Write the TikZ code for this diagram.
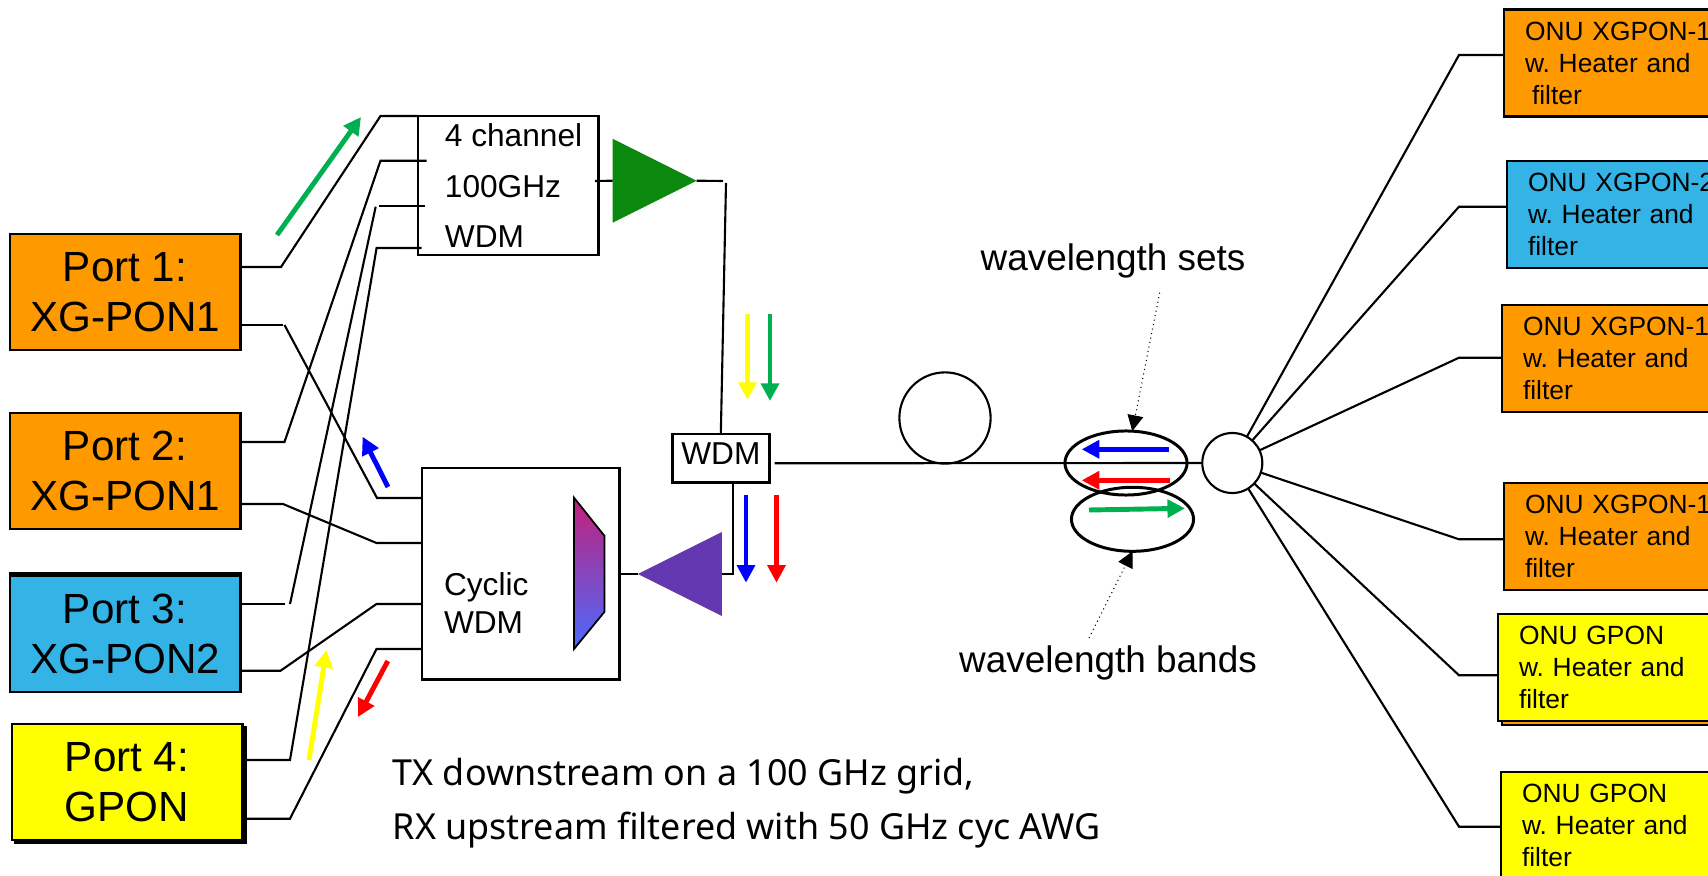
\documentclass[tikz,border=0pt]{standalone}
\usepackage{fontspec}
\setmainfont{Liberation Sans}
\newfontfamily\notefont{Noto Sans}
\usetikzlibrary{arrows.meta, positioning, shapes.geometric, shadows}

\definecolor{portorange}{HTML}{FF9900}
\definecolor{portblue}{HTML}{33B3E6}
\definecolor{portyellow}{RGB}{255,255,0}
\definecolor{sigteal}{HTML}{00B050}
\definecolor{amptx}{HTML}{0B8A0F}
\definecolor{amprx}{HTML}{6338B0}
\definecolor{gradtop}{HTML}{C2207A}
\definecolor{gradmid}{HTML}{9A46B8}
\definecolor{gradlow}{HTML}{4A6BFF}

\tikzset{
    fibre/.style={line width=0.6pt},
    boxed/.style={draw, line width=0.8pt, outer sep=0pt, inner sep=0pt},
    portbox/.style={boxed, anchor=north west, minimum width=2.3cm, minimum height=1.16cm, align=center, font=\fontsize{12}{14.1}\selectfont},
    onubox/.style={boxed, anchor=north west, text width=2.2cm, inner xsep=0.21cm, minimum height=1.07cm, align=left, font=\frenchspacing\fontsize{7.5}{9.1}\selectfont},
    midfont/.style={font=\fontsize{9}{14.4}\selectfont},
    ampshape/.style={isosceles triangle, isosceles triangle stretches, minimum width=0.84cm, minimum height=0.84cm, inner sep=0pt, outer sep=0pt},
    ring/.style={draw, circle, line width=0.6pt, inner sep=0pt, outer sep=0pt},
    bandring/.style={draw, ellipse, line width=0.85pt, minimum width=1.22cm, minimum height=0.64cm, inner sep=0pt, outer sep=0pt},
    sigarrow/.style={line width=1.4pt, -{Triangle[length=5pt,width=5pt]}},
    leader/.style={densely dotted, line width=0.3pt, -{Triangle[length=4.5pt,width=4.5pt]}}
}
\newcommand{\nudge}{\hspace*{0.11cm}}

\begin{document}
\begin{tikzpicture}[x=0.01cm,y=-0.01cm]
    \path[use as bounding box,clip] (0,0) rectangle (1708,876);

    % Ports on the left
    \node[portbox, fill=portorange] (port1) at (10,234) {Port 1:\\XG-PON1};
    \node[portbox, fill=portorange] (port2) at (10,413) {Port 2:\\XG-PON1};
    \node[portbox, fill=portblue, copy shadow={shadow xshift=0cm, shadow yshift=0.03cm, fill=black, draw=black}] (port3) at (10,576) {Port 3:\\XG-PON2};
    \node[portbox, fill=portyellow, copy shadow={shadow xshift=0.03cm, shadow yshift=-0.03cm, fill=black, draw=black}] (port4) at (12,724) {Port 4:\\GPON};

    % Multiplexer and cyclic filter
    \node[boxed, midfont, anchor=north west, minimum width=1.8cm, minimum height=1.39cm, align=left] (wdmfour) at (418,116) {\nudge 4 channel\\\nudge 100GHz\\\nudge WDM};
    \node[boxed, anchor=north west, text width=1.53cm, inner xsep=0.22cm, minimum height=2.11cm, align=left, font=\fontsize{9}{10.6}\selectfont] (cycwdm) at (422,468) {\rule{0pt}{0.82cm}Cyclic\\WDM};
    \node[boxed, midfont, anchor=north west, minimum width=0.966cm, minimum height=0.487cm, text depth=0.09cm] (wdmmux) at (672.5,434) {WDM};

    % Gradient part inside the cyclic filter
    \draw[line width=0.5pt, top color=gradtop, middle color=gradmid, bottom color=gradlow] (574,497.7) -- (604.6,536) -- (604.6,611.7) -- (574,649) -- cycle;

    % Amplifiers
    \node[ampshape, fill=amptx, anchor=apex] (amp1) at (696.6,180.7) {};
    \node[ampshape, fill=amprx, shape border rotate=180, anchor=apex] (amp2) at (637.8,574) {};

    % Port 1 to the filters
    \draw[fibre] (port1.east |- 0,267) -- (281,267) -- (380.5,116) -- (wdmfour.west |- 0,116);
    \draw[fibre] (port1.east |- 0,325) -- (283,325);
    \draw[fibre] (284.5,325) -- (377,498) -- (cycwdm.west |- 0,498);
    % Port 2
    \draw[fibre] (port2.east |- 0,442) -- (284.5,442) -- (380.5,160.7) -- (426.5,160.7);
    \draw[fibre] (port2.east |- 0,504) -- (283,504) -- (376.5,543) -- (cycwdm.west |- 0,543);
    % Port 3
    \draw[fibre] (port3.east |- 0,604) -- (284.7,604);
    \draw[fibre] (290,604) -- (375.7,206.7);
    \draw[fibre] (378.6,205.7) -- (425,205.7);
    \draw[fibre] (port3.east |- 0,670.7) -- (280.6,670.7) -- (376.5,604) -- (cycwdm.west |- 0,604);
    % Port 4
    \draw[fibre] (port4.east |- 0,760) -- (290,760) -- (376.6,248) -- (421.7,248);
    \draw[fibre] (port4.east |- 0,818.7) -- (290,818.7) -- (376.5,649) -- (cycwdm.west |- 0,649);

    % Amplifier connections
    \draw[fibre] (595,181) -- (amp1.west);
    \draw[fibre] (amp1.east) -- (723,181);
    \draw[fibre] (726,183) -- (wdmmux.north);
    \draw[fibre] (cycwdm.east |- amp2.west) -- (amp2.west);
    \draw[fibre] (amp2.east) -- (733,574) -- (wdmmux.south -| 733,0);

    % Fibre spool, splitter and wavelength rings
    \node[ring, minimum size=0.912cm] (spool) at (945,418) {};
    \node[ring, minimum size=0.6cm] (split) at (1232.3,463) {};
    \draw[fibre] (774.5,463.3) -- (split.west);
    \node[bandring] (setsring) at (1126,463) {};
    \node[bandring] (bandsring) at (1132.5,519.3) {};

    % Signal arrows
    \draw[sigarrow, sigteal] (277,235) -- (361,117);
    \draw[sigarrow, blue] (388,487) -- (362.6,436.7);
    \draw[sigarrow, portyellow] (309,760) -- (326.5,650);
    \draw[sigarrow, red] (387.8,661) -- (358,717);
    \draw[sigarrow, portyellow] (747.5,313.7) -- (747.5,400);
    \draw[sigarrow, sigteal] (770,313.7) -- (770,401);
    \draw[sigarrow, blue] (746,495) -- (746,582.7);
    \draw[sigarrow, red] (776.5,495) -- (776.5,582.7);
    \draw[sigarrow, blue] (1169,449.3) -- (1081.7,449.3);
    \draw[sigarrow, red] (1170,480.3) -- (1081.7,480.3);
    \draw[sigarrow, sigteal] (1089,510) -- (1185,508.3);

    % Labels and leaders
    \node[anchor=base, font=\fontsize{10.5}{12}\selectfont] (setslabel) at (1113,271) {wavelength sets};
    \node[anchor=base, font=\fontsize{10.5}{12}\selectfont] (bandslabel) at (1108,672.7) {wavelength bands};
    \coordinate (setsfoot) at (1159.7,292.7);
    \coordinate (bandsfoot) at (1089,638);
    \draw[leader] (setsfoot) -- (setsring);
    \draw[leader] (bandsfoot) -- (bandsring.south);

    \node[anchor=west, align=left, inner sep=0pt, font=\notefont\fontsize{10.2}{15.4}\selectfont] (note) at (392,803) {TX downstream on a 100 GHz grid,\\RX upstream filtered with 50 GHz cyc AWG};

    % ONUs on the right
    \node[onubox, fill=portorange] (onu1) at (1504,9.7) {ONU XGPON-1\\w. Heater and\\\hspace*{0.7mm}filter};
    \node[onubox, fill=portblue] (onu2) at (1507,161) {ONU XGPON-2\\w. Heater and\\filter};
    \node[onubox, fill=portorange] (onu3) at (1502,305) {ONU XGPON-1\\w. Heater and\\filter};
    \node[onubox, fill=portorange] (onu4) at (1504,483) {ONU XGPON-1\\w. Heater and\\filter};
    \node[onubox, fill=portyellow, copy shadow={shadow xshift=0.04cm, shadow yshift=-0.04cm, fill=portorange, draw=black}] (onu5) at (1498,614) {ONU GPON\\w. Heater and\\filter};
    \node[onubox, fill=portyellow] (onu6) at (1501,772) {ONU GPON\\w. Heater and\\filter};

    % Splitter to the ONUs
    \draw[fibre] (onu1.west |- 0,55) -- (1459,55) -- (split);
    \draw[fibre] (onu2.west |- 0,206.7) -- (1459,206.7) -- (split);
    \draw[fibre] (onu3.west |- 0,357.7) -- (1459,357.7) -- (split);
    \draw[fibre] (onu4.west |- 0,539.3) -- (1459,539.3) -- (split);
    \draw[fibre] (onu5.west |- 0,675.3) -- (1459,675.3) -- (split);
    \draw[fibre] (onu6.west |- 0,826.7) -- (1459,826.7) -- (split);
\end{tikzpicture}
\end{document}
